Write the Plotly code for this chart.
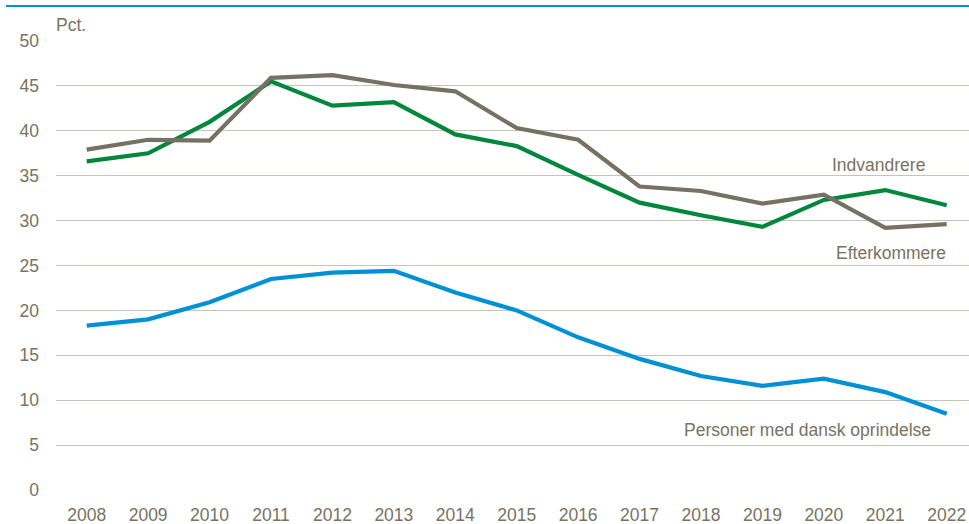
import plotly.graph_objects as go

years = list(range(2008, 2023))
indvandrere = [36.6, 37.5, 41.0, 45.5, 42.8, 43.2, 39.6, 38.3, 35.1, 32.0, 30.6, 29.3, 32.3, 33.4, 31.7]
efterkommere = [37.9, 39.0, 38.9, 45.9, 46.2, 45.1, 44.4, 40.3, 39.0, 33.8, 33.3, 31.9, 32.9, 29.2, 29.6]
dansk = [18.3, 19.0, 20.9, 23.5, 24.2, 24.4, 22.0, 20.0, 17.0, 14.6, 12.7, 11.6, 12.4, 10.9, 8.5]
y_ticks = [0, 5, 10, 15, 20, 25, 30, 35, 40, 45, 50]
series_names = ["Indvandrere", "Efterkommere", "Personer med dansk oprindelse"]

GREEN = "#00873c"
GREY = "#767163"
BLUE = "#0091d5"
TEXT = "#77735f"
GRID = "#c6c4b8"
FONT = "Liberation Sans, Arial, sans-serif"
FS = 17.5

fig = go.Figure()
for vals, col, name in [(indvandrere, GREEN, series_names[0]),
                        (efterkommere, GREY, series_names[1]),
                        (dansk, BLUE, series_names[2])]:
    fig.add_trace(go.Scatter(x=years, y=vals, mode="lines", name=name,
                             line=dict(color=col, width=4.2), showlegend=False))

# labels anchored to last point of each series
fig.add_annotation(x=years[-1], y=indvandrere[-1], text=series_names[0], showarrow=False,
                   xanchor="right", yanchor="middle", xshift=-20, yshift=40,
                   font=dict(family=FONT, size=FS, color=TEXT))
fig.add_annotation(x=years[-1], y=efterkommere[-1], text=series_names[1], showarrow=False,
                   xanchor="right", yanchor="middle", xshift=1, yshift=-29,
                   font=dict(family=FONT, size=FS, color=TEXT))
fig.add_annotation(x=years[-1], y=dansk[-1], text=series_names[2], showarrow=False,
                   xanchor="right", yanchor="middle", xshift=-14, yshift=-16,
                   font=dict(family=FONT, size=FS, color=TEXT))
fig.add_annotation(xref="paper", yref="paper", x=0, y=1, text="Pct.", showarrow=False,
                   xanchor="left", yanchor="bottom", yshift=4, xshift=-2,
                   font=dict(family=FONT, size=FS, color=TEXT))

# top blue rule
fig.add_shape(type="line", xref="paper", yref="paper", x0=-50/913, x1=1.0,
              y0=484 / 449, y1=484 / 449, line=dict(color="#0090d6", width=2.2))

fig.update_layout(
    width=969, height=524,
    margin=dict(l=56, r=0, t=41, b=34),
    paper_bgcolor="white", plot_bgcolor="white",
    font=dict(family=FONT, size=FS, color=TEXT),
    xaxis=dict(range=[2007.5, 2022.363], tickmode="array", tickvals=years,
               ticktext=[str(y) for y in years], showgrid=False, zeroline=False,
               showline=False, ticks="", automargin=False, ticklabelstandoff=12,
               tickfont=dict(family=FONT, size=FS, color=TEXT)),
    yaxis=dict(range=[0, 50], tickmode="array", tickvals=y_ticks,
               showgrid=True, gridcolor=GRID, gridwidth=1.3, zeroline=False,
               showline=False, ticks="", ticklabelstandoff=16, automargin=False,
               tickfont=dict(family=FONT, size=FS, color=TEXT)),
)

fig.write_html("out.html", config={"displayModeBar": False},
               post_script="document.body.style.margin='0';document.body.style.overflow='hidden';")
